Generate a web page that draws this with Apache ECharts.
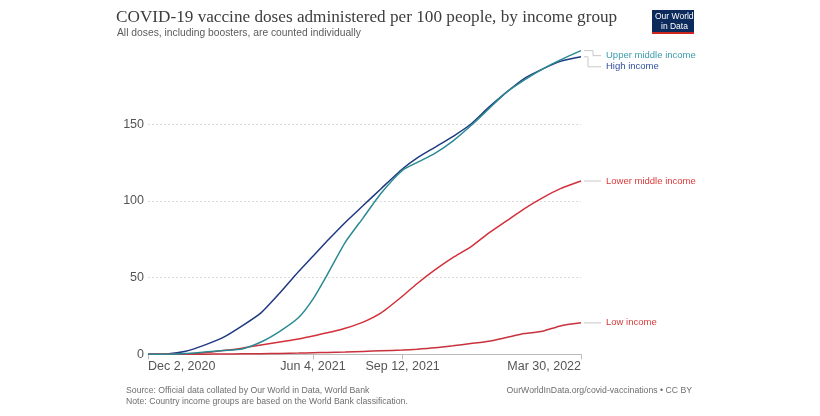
<!DOCTYPE html>
<html><head><meta charset="utf-8">
<script src="https://cdn.jsdelivr.net/npm/echarts@6/dist/echarts.min.js"></script>
<style>html,body{margin:0;padding:0;background:#fff}#c{width:820px;height:416px}</style>
</head><body><div id="c"></div>
<script>
// ---- data ----
const dates = ['2020-12-02','2020-12-23','2021-01-13','2021-02-03','2021-02-24','2021-03-17','2021-04-07','2021-04-28','2021-05-19','2021-06-04','2021-06-20','2021-07-10','2021-07-30','2021-08-19','2021-09-12','2021-09-28','2021-10-18','2021-11-07','2021-11-27','2021-12-17','2022-01-06','2022-01-26','2022-02-15','2022-03-07','2022-03-30'];
const seriesNames = ['Upper middle income','High income','Lower middle income','Low income'];
const upperMiddle = [0,0,0.5,1.5,2.5,3.5,8,15,24,36,52,73,89,105,120,125,131,139,149,160,171,179,186,192,198];
const highIncome  = [0,0.2,2,6,11,18.5,27,40,54,64,74,86,97,108,121,128,135,142,150,161,171,180,186,191,194];
const lowerMiddle = [0,0,0.2,1,2.5,4,6,8,10,12,14,17,21,27,38,46,55,63,70,79,87,95,102,108,113];
const lowIncome   = [0,0,0,0.1,0.2,0.3,0.4,0.6,0.8,1,1.2,1.5,1.9,2.3,2.8,3.3,4.2,5.5,7,8.5,11,13.5,15,18.5,20.5];
const xTickDates = ['2020-12-02','2021-06-04','2021-09-12','2022-03-30'];
const yTicks = [0,50,100,150];
const colors = ['#2a8a93','#1e3a82','#d2303a','#c8323c'];
const labelColors = ['#3a9cab','#2f4fa0','#dd3a3a','#d43c3c'];

const months = ['Jan','Feb','Mar','Apr','May','Jun','Jul','Aug','Sep','Oct','Nov','Dec'];
function ts(s){ const p=s.split('-'); return Date.UTC(+p[0],+p[1]-1,+p[2]); }
function fmt(v){ const d=new Date(v); return months[d.getUTCMonth()]+' '+d.getUTCDate()+', '+d.getUTCFullYear(); }

const allSeries = [upperMiddle, highIncome, lowerMiddle, lowIncome];
const chart = echarts.init(document.getElementById('c'), null, {renderer:'canvas'});
const font = 'Liberation Sans, Arial, sans-serif';
const tickTs = xTickDates.map(ts);
const option = {
  animation:false,
  grid:{left:148, right:239, top:47.6, bottom:61.7},
  xAxis:{
    type:'value', min:ts(dates[0]), max:ts(dates[dates.length-1]),
    axisLine:{show:true, lineStyle:{color:'#bbbbbb', width:1}},
    axisTick:{show:true, customValues:tickTs, length:5, lineStyle:{color:'#bbbbbb'}},
    axisLabel:{customValues:tickTs, formatter:v=>fmt(v), color:'#555', fontSize:12.5, fontFamily:font, margin:6,
      alignMinLabel:'left', alignMaxLabel:'right', showMinLabel:true, showMaxLabel:true, hideOverlap:false},
    splitLine:{show:false}
  },
  yAxis:{
    type:'value', min:0, max:200, interval:50,
    axisLine:{show:false}, axisTick:{show:false},
    axisLabel:{color:'#555', fontSize:12.5, fontFamily:font, margin:4, showMaxLabel:false},
    splitLine:{show:true, showMinLine:false, showMaxLine:false, lineStyle:{color:'#dcdcdc', type:[2,2], width:1}}
  },
  series: allSeries.map((arr,i)=>({
    name:seriesNames[i], type:'line', showSymbol:false, symbol:'none', smooth:0.2,
    data: dates.map((d,j)=>[ts(d), arr[j]]),
    lineStyle:{color:colors[i], width:1.5}, itemStyle:{color:colors[i]},
    z: i===0?3:2
  })),
  graphic:[]
};
chart.setOption(option);

// Annotations computed from the chart's own scales
const lastIdx = dates.length-1;
const g = [];
const labelDy = [5, 10, 0, 0];
const elbowX = [12, 7, null, null];
allSeries.forEach((arr,i)=>{
  const p = chart.convertToPixel({seriesIndex:i}, [ts(dates[lastIdx]), arr[lastIdx]]);
  const x0 = p[0]+3, y0 = p[1], ly = p[1]+labelDy[i];
  let pts;
  if (elbowX[i]!==null) pts = [[x0,y0],[p[0]+elbowX[i],y0],[p[0]+elbowX[i],ly],[p[0]+20,ly]];
  else pts = [[x0,y0],[p[0]+20,ly]];
  g.push({type:'polyline', shape:{points:pts}, style:{stroke:'#c8c8c8', lineWidth:1, fill:null}, silent:true});
  g.push({type:'text', x:p[0]+25, y:ly, style:{text:seriesNames[i], fill:labelColors[i], font:'9.5px '+font, verticalAlign:'middle'}});
});
g.push({type:'text', left:116, top:9, style:{text:'COVID-19 vaccine doses administered per 100 people, by income group', fill:'#3d3d3d', font:'17.2px "Liberation Serif", Georgia, serif'}});
g.push({type:'text', left:117, top:28, style:{text:'All doses, including boosters, are counted individually', fill:'#5b5b5b', font:'10.3px '+font}});
g.push({type:'text', left:126, top:386, style:{text:'Source: Official data collated by Our World in Data, World Bank', fill:'#6e6e6e', font:'8.7px '+font}});
g.push({type:'text', left:126, top:397, style:{text:'Note: Country income groups are based on the World Bank classification.', fill:'#6e6e6e', font:'8.7px '+font}});
g.push({type:'text', right:128, top:386, style:{text:'OurWorldInData.org/covid-vaccinations • CC BY', fill:'#6e6e6e', font:'8.7px '+font}});
g.push({type:'rect', left:652, top:10, shape:{width:42, height:24}, style:{fill:'#0d2a5c'}});
g.push({type:'rect', left:652, top:32, shape:{width:42, height:2}, style:{fill:'#ce261e'}});
g.push({type:'text', left:655, top:12, style:{text:'Our World', fill:'#fff', font:'8.5px '+font}});
g.push({type:'text', left:661, top:22, style:{text:'in Data', fill:'#fff', font:'8.5px '+font}});
chart.setOption({graphic:g});
</script></body></html>
